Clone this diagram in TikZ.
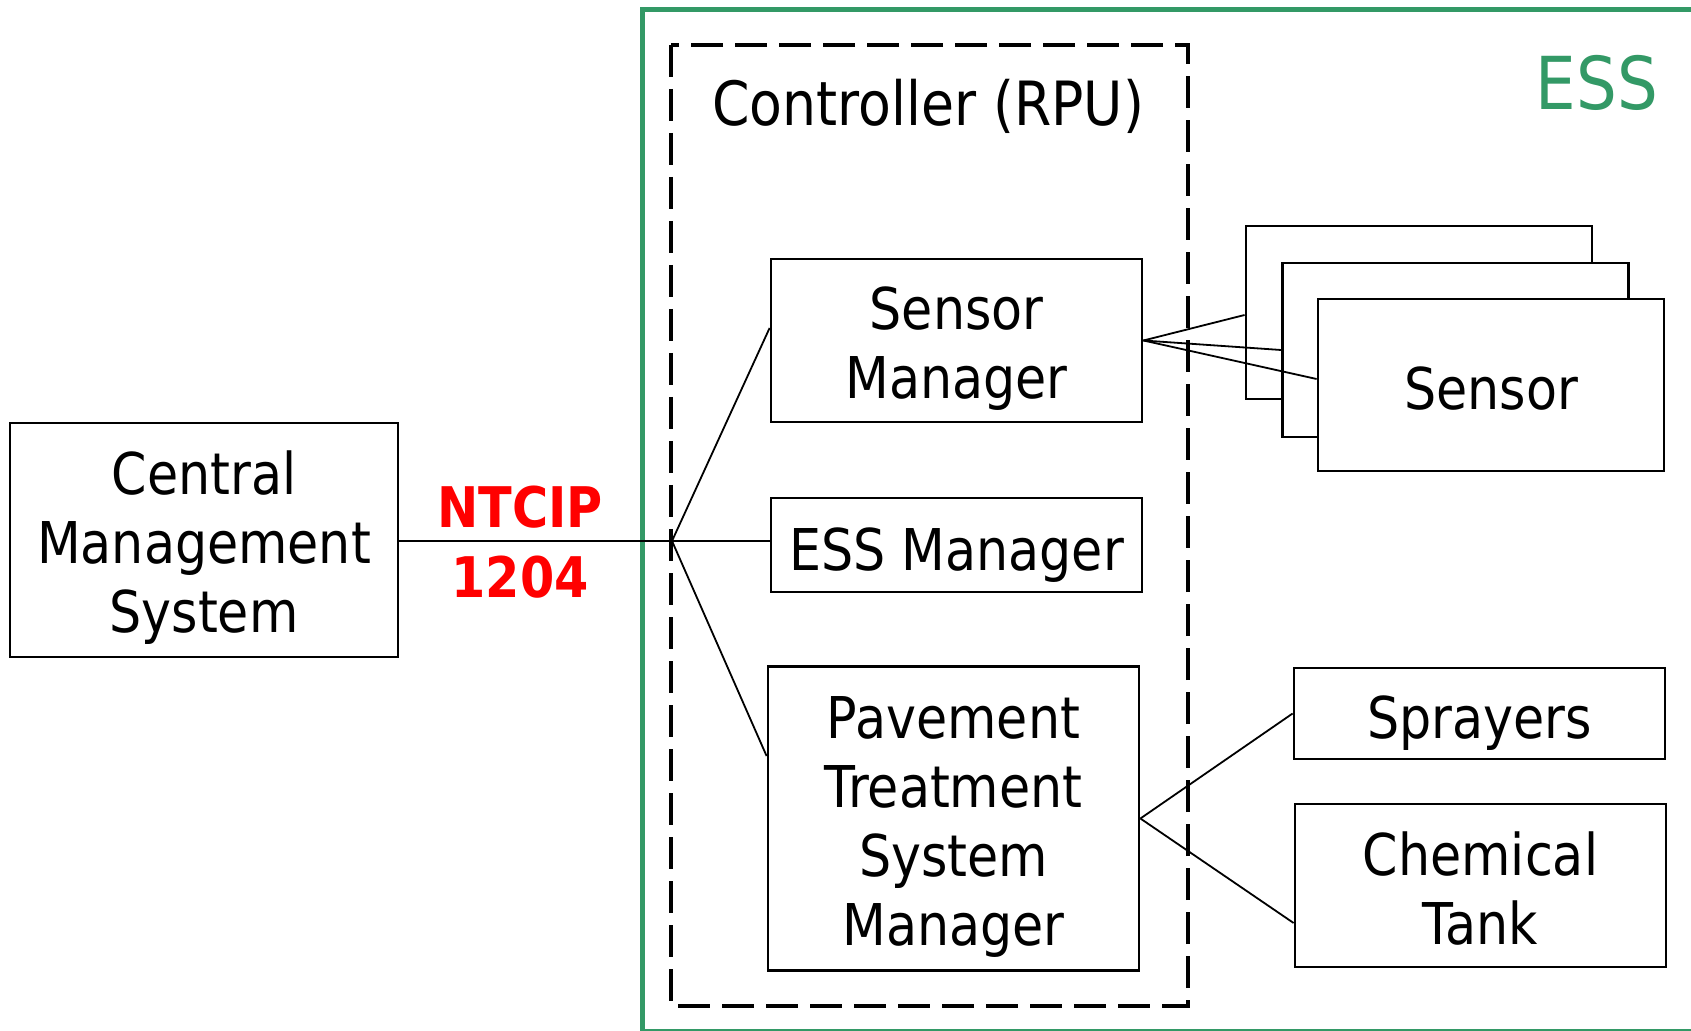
\documentclass[tikz,border=0pt]{standalone}
\usepackage{fontspec}
\setmainfont{DejaVu Sans}[FakeStretch=0.88]
\definecolor{essgreen}{RGB}{51,153,102}
\definecolor{ntcipred}{RGB}{255,0,0}
\begin{document}
\begin{tikzpicture}[x=0.5pt,y=-0.5pt,
  box/.style={draw=black, line width=1.4pt, fill=white, inner sep=0pt, align=center,
              font=\fontsize{28.8}{34.5}\selectfont, text depth=0pt, text height=25pt},
  twoline/.style={text height=58.5pt},
  threeline/.style={text height=92.5pt},
  fourline/.style={text height=126.5pt},
  conn/.style={draw=black, line width=0.9pt},
  ctrlbox/.style={draw=black, line width=1.7pt, dash pattern=on 16pt off 6pt},
  essbox/.style={draw=essgreen, line width=2.5pt},
]
\useasboundingbox (0,0) rectangle (1691,1031);
\clip (0,0) rectangle (1691,1031);
\fill[white] (0,0) rectangle (1691,1031);

% ESS enclosure and controller
\draw[essbox] (642,10) rectangle (1760,1031);
\node[anchor=base, text=essgreen, inner sep=0pt, font=\fontsize{36.5}{40}\selectfont] (esslabel) at (1597,110) {ESS};
\draw[ctrlbox] (671,45) rectangle (1188,1006);
\node[anchor=base, inner sep=0pt, font=\fontsize{30.5}{36}\selectfont] (ctrllabel) at (928,126) {Controller (RPU)};

% boxes
\node[box, threeline, minimum width=194pt, minimum height=117pt] (cms) at (204,540) {Central\\Management\\System};
\node[box, twoline, minimum width=185.5pt, minimum height=81.5pt] (sm) at (956.5,340.5) {Sensor\\Manager};
\node[box, minimum width=185.5pt, minimum height=47pt] (essm) at (956.5,545) {ESS Manager};
\node[box, fourline, minimum width=185.5pt, minimum height=152pt] (pts) at (953.5,818.5) {Pavement\\Treatment\\System\\Manager};

\node[box, minimum width=173pt, minimum height=86.5pt] (s1) at (1419,312.5) {};
\node[box, minimum width=173pt, minimum height=87pt] (s2) at (1455.5,350) {};
\node[box, minimum width=173pt, minimum height=86pt] (s3) at (1491,385) {Sensor};

\node[box, minimum width=185.5pt, minimum height=45.5pt] (spr) at (1479.5,713.5) {Sprayers};
\node[box, twoline, minimum width=185.5pt, minimum height=81.5pt] (ct) at (1480.5,885.5) {Chemical\\Tank};

% protocol label
\node[inner sep=0pt, align=center, text=ntcipred, font=\fontsize{28}{35}\selectfont\bfseries] (ntcip) at (520,542.5) {NTCIP\\1204};

% connectors
\coordinate (j) at (672,541);
\draw[conn] (cms.east |- j) -- (j) -- (j -| essm.west);
\draw[conn] (j) -- ([yshift=6.25pt]sm.west);
\draw[conn] (j) -- ([yshift=31.25pt]pts.west);
\draw[conn] (sm.east) -- ([yshift=-1.25pt]s1.west);
\draw[conn] (sm.east) -- (s2.west);
\draw[conn] (sm.east) -- ([yshift=3pt]s3.west);
\draw[conn] (pts.east) -- (spr.west);
\draw[conn] (pts.east) -- ([yshift=-18.75pt]ct.west);
\end{tikzpicture}
\end{document}
